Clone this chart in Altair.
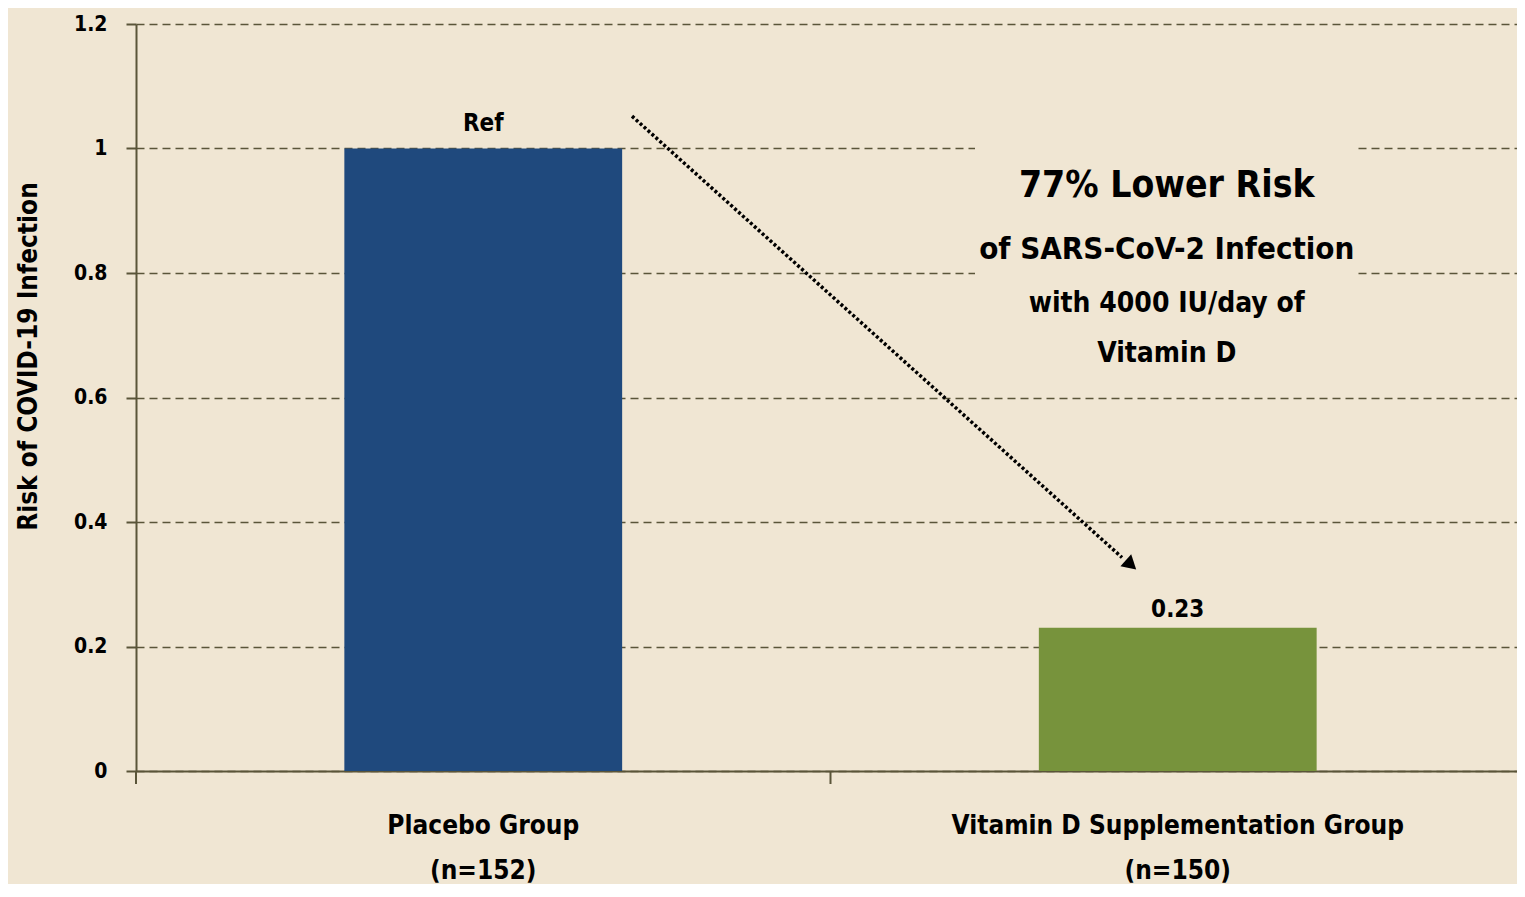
import altair as alt
import pandas as pd

# ---- data ----
groups = ["Placebo Group\n(n=152)", "Vitamin D Supplementation Group\n(n=150)"]
risks = [1.0, 0.23]
bar_labels = ["Ref", "0.23"]
bar_colors = ["#1F497D", "#77933C"]
y_ticks = [0, 0.2, 0.4, 0.6, 0.8, 1.0, 1.2]

note_lines = ["77% Lower Risk", "of SARS-CoV-2 Infection", "with 4000 IU/day of", "Vitamin D"]
note_y = [0.94, 0.837, 0.75, 0.67]
note_sizes = [37, 31, 28, 28]

arrow_start_y = 1.052
arrow_end_y = 0.343
arrow_tip_y = 0.331

FONT = "DejaVu Sans Condensed, DejaVu Sans, sans-serif"
BG = "#F0E6D3"
AX = "#5A5539"

df = pd.DataFrame({"group": groups, "risk": risks, "label": bar_labels, "color": bar_colors})
notes = pd.DataFrame({"text": note_lines, "y": note_y, "size": note_sizes})
notes["group"] = groups[1]
arrow = pd.DataFrame({"y": [arrow_start_y], "y2": [arrow_end_y]})
arrow_head = pd.DataFrame({"y": [arrow_tip_y]})

x_scale = alt.Scale(range=[0, 1389], paddingInner=0.6, paddingOuter=0.3)
x_enc = alt.X(
    "group:N",
    sort=groups,
    scale=x_scale,
    axis=alt.Axis(
        title=None,
        labelExpr="split(datum.label, '\\n')",
        labelAngle=0,
        labelFont=FONT,
        labelFontSize=26,
        labelFontWeight="bold",
        labelColor="#000000",
        labelLineHeight=45,
        labelPadding=54,
        labelBaseline="middle",
        labelLimit=1000,
        ticks=False,
        domainColor=AX,
        domainWidth=2,
    ),
)
y_scale = alt.Scale(domain=[0, 1.2], nice=False)

bars = alt.Chart(df).mark_bar().encode(
    x=x_enc,
    y=alt.Y(
        "risk:Q",
        scale=y_scale,
        axis=alt.Axis(
            values=y_ticks,
            format="~g",
            title="Risk of COVID-19 Infection",
            titleFont=FONT,
            titleFontSize=26,
            titleFontWeight="bold",
            titleColor="#000000",
            titleX=-108,
            titleY=332,
            titleAngle=-90,
            titleAlign="center",
            titleBaseline="middle",
            labelFont=FONT,
            labelFontSize=21,
            labelFontWeight="bold",
            labelColor="#000000",
            labelPadding=19,
            tickSize=10,
            tickColor=AX,
            tickWidth=2,
            domainColor=AX,
            domainWidth=2,
            grid=True,
            gridColor=AX,
            gridDash=[8, 5],
            gridWidth=1.5,
        ),
    ),
    color=alt.Color("color:N", scale=None),
)

ref_label = alt.Chart(df).transform_filter(alt.datum.label == "Ref").mark_text(
    font=FONT, fontSize=24, fontWeight="bold", color="#000000", baseline="alphabetic", dy=-18
).encode(x=alt.X("group:N", sort=groups), y=alt.Y("risk:Q", scale=y_scale), text="label:N")

val_label = alt.Chart(df).transform_filter(alt.datum.label != "Ref").mark_text(
    font=FONT, fontSize=24, fontWeight="bold", color="#000000", baseline="alphabetic", dy=-11
).encode(x=alt.X("group:N", sort=groups), y=alt.Y("risk:Q", scale=y_scale), text="label:N")

box = alt.Chart(pd.DataFrame({"y": [1.03], "y2": [0.62]})).mark_rect(color=BG).encode(
    x=alt.value(839), x2=alt.value(1222), y=alt.Y("y:Q", scale=y_scale), y2="y2:Q"
)

note_text = alt.Chart(notes).mark_text(
    font=FONT, fontWeight="bold", color="#000000", baseline="middle", dx=-11
).encode(
    x=alt.X("group:N", sort=groups),
    y=alt.Y("y:Q", scale=y_scale),
    text="text:N",
    size=alt.Size("size:Q", scale=None, legend=None),
)

arrow_line = alt.Chart(arrow).mark_rule(
    color="#000000", strokeWidth=3.5, strokeDash=[3, 2.3]
).encode(x=alt.value(496), x2=alt.value(986), y=alt.Y("y:Q", scale=y_scale), y2="y2:Q")

arrow_tip = alt.Chart(arrow_head).mark_point(
    shape="triangle-up", filled=True, color="#000000", size=260, angle=132, opacity=1
).encode(x=alt.value(995), y=alt.Y("y:Q", scale=y_scale))

left_tick = alt.Chart(pd.DataFrame({"t": [0]})).mark_rule(color=AX, strokeWidth=2).encode(
    x=alt.value(0), y=alt.value(747), y2=alt.value(760)
)
mid_tick = alt.Chart(pd.DataFrame({"t": [0]})).mark_rule(color=AX, strokeWidth=2).encode(
    x=alt.value(694.5), y=alt.value(747), y2=alt.value(760)
)

chart = (
    alt.layer(bars, ref_label, val_label, box, note_text, arrow_line, arrow_tip, left_tick, mid_tick)
    .properties(
        width=1381,
        height=747,
        background=BG,
        autosize=alt.AutoSizeParams(type="none"),
        padding={"left": 128, "top": 16, "right": 0, "bottom": 113},
    )
    .configure_view(stroke=None)
)

chart.save("out.html", embed_options={"renderer": "svg", "actions": False})
